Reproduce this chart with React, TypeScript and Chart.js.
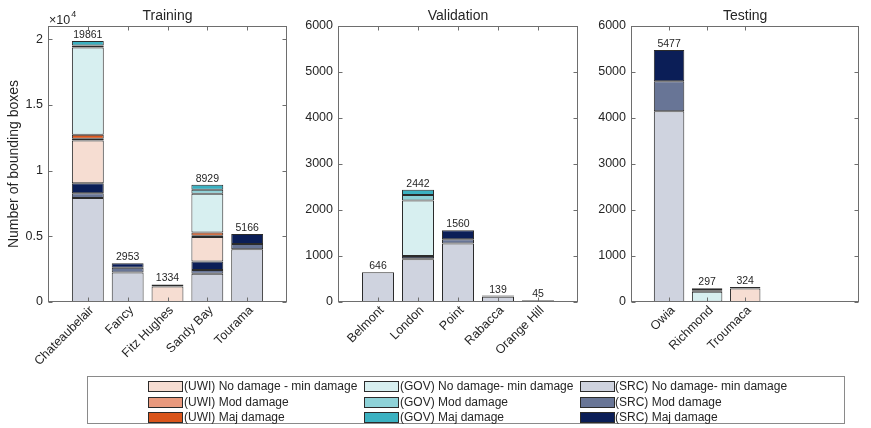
import React, { useEffect, useRef } from 'react';
import { Chart, registerables } from 'chart.js';

Chart.register(...registerables);

const FONT = '"Liberation Sans", Arial, Helvetica, sans-serif';
const TEXT = '#262626';
const EDGE = '#2b2b2b';
const AXIS = '#6e6e6e';

// Categories of each panel
const trainingCategories = ['Chateaubelair', 'Fancy', 'Fitz Hughes', 'Sandy Bay', 'Tourama'];
const validationCategories = ['Belmont', 'London', 'Point', 'Rabacca', 'Orange Hill'];
const testingCategories = ['Owia', 'Richmond', 'Troumaca'];

// Series values: Training (5) | Validation (5) | Testing (3)
const srcNoDamage = [7920, 2240, 0, 2140, 4020, 646, 930, 1270, 115, 30, 4145, 5, 0];
const srcModDamage = [350, 360, 0, 300, 400, 0, 20, 95, 4, 15, 655, 0, 0];
const srcMajDamage = [760, 353, 0, 650, 746, 0, 50, 195, 20, 0, 677, 0, 0];
const uwiNoDamage = [3260, 0, 1180, 1850, 0, 0, 0, 0, 0, 0, 0, 0, 295];
const uwiModDamage = [130, 0, 34, 100, 0, 0, 0, 0, 0, 0, 0, 0, 12];
const uwiMajDamage = [300, 0, 120, 250, 0, 0, 0, 0, 0, 0, 0, 0, 17];
const govNoDamage = [6650, 0, 0, 2955, 0, 0, 1205, 0, 0, 0, 0, 220, 0];
const govModDamage = [150, 0, 0, 305, 0, 0, 120, 0, 0, 0, 0, 30, 0];
const govMajDamage = [341, 0, 0, 379, 0, 0, 117, 0, 0, 0, 0, 42, 0];

// Y tick values
const trainingTicks = [0, 5000, 10000, 15000, 20000];
const countTicks = [0, 1000, 2000, 3000, 4000, 5000, 6000];

const series = [
  { name: '(SRC) No damage- min damage', color: '#cfd3df', values: srcNoDamage },
  { name: '(SRC) Mod damage', color: '#687596', values: srcModDamage },
  { name: '(SRC) Maj damage', color: '#0b1e57', values: srcMajDamage },
  { name: '(UWI) No damage - min damage', color: '#f6ddd2', values: uwiNoDamage },
  { name: '(UWI) Mod damage', color: '#e9997d', values: uwiModDamage },
  { name: '(UWI) Maj damage', color: '#d9541b', values: uwiMajDamage },
  { name: '(GOV) No damage- min damage', color: '#d7eff0', values: govNoDamage },
  { name: '(GOV) Mod damage', color: '#8ed2d8', values: govModDamage },
  { name: '(GOV) Maj damage', color: '#3bb1c1', values: govMajDamage },
];

// legend order (column-major): UWI, GOV, SRC
const legendColumns = [[3, 4, 5], [6, 7, 8], [0, 1, 2]];

type Panel = {
  title: string;
  categories: string[];
  offset: number;
  slots: number;
  left: number;
  right: number;
  yMax: number;
  ticks: number[];
  exp: boolean;
};

const panels: Panel[] = [
  { title: 'Training', categories: trainingCategories, offset: 0, slots: 6, left: 48, right: 287, yMax: 21000, ticks: trainingTicks, exp: true },
  { title: 'Validation', categories: validationCategories, offset: 5, slots: 6, left: 338, right: 578, yMax: 6000, ticks: countTicks, exp: false },
  { title: 'Testing', categories: testingCategories, offset: 10, slots: 6, left: 631, right: 866, yMax: 6000, ticks: countTicks, exp: false },
];

const TOP = 26;
const BOTTOM = 302;
const W = 871;
const H = 428;

function makeDecor(panel: Panel) {
  return {
    id: 'decor',
    afterDraw(chart: any) {
      const ctx = chart.ctx as CanvasRenderingContext2D;
      const { left, right, top, bottom } = chart.chartArea;
      const xs = chart.scales.x;
      const ys = chart.scales.y;
      ctx.save();
      // box
      ctx.strokeStyle = AXIS;
      ctx.lineWidth = 1;
      const l = Math.round(left) + 0.5;
      const r = Math.round(right) - 0.5;
      const t = Math.round(top) + 0.5;
      const b = Math.round(bottom) - 0.5;
      ctx.strokeRect(l, t, r - l, b - t);
      const line = (x1: number, y1: number, x2: number, y2: number) => {
        ctx.beginPath();
        ctx.moveTo(x1, y1);
        ctx.lineTo(x2, y2);
        ctx.stroke();
      };
      // y ticks inward both sides
      panel.ticks.forEach((v) => {
        const py = Math.round(ys.getPixelForValue(v)) + 0.5;
        line(l, py, l + 4, py);
        line(r - 4, py, r, py);
      });
      // x ticks inward top and bottom
      panel.categories.forEach((_, i) => {
        const px = Math.round(xs.getPixelForValue(i + 1)) + 0.5;
        line(px, b, px, b - 4);
        line(px, t, px, t + 4);
      });
      // totals above bars
      ctx.fillStyle = TEXT;
      ctx.font = `10.5px ${FONT}`;
      ctx.textAlign = 'center';
      ctx.textBaseline = 'alphabetic';
      panel.categories.forEach((_, i) => {
        let sum = 0;
        series.forEach((s) => { sum += s.values[panel.offset + i]; });
        const px = xs.getPixelForValue(i + 1);
        const py = ys.getPixelForValue(sum);
        ctx.fillText(String(sum), px, py - 3);
      });
      // title
      ctx.font = `14px ${FONT}`;
      ctx.fillText(panel.title, (left + right) / 2, top - 6);
      if (panel.exp) {
        ctx.textAlign = 'left';
        ctx.font = `12.5px ${FONT}`;
        ctx.fillText('\u00d710', left + 1, top - 2);
        const w = ctx.measureText('\u00d710').width;
        ctx.font = `9px ${FONT}`;
        ctx.fillText('4', left + 1 + w + 1, top - 9);
        // y title
        ctx.save();
        ctx.translate(18, (top + bottom) / 2);
        ctx.rotate(-Math.PI / 2);
        ctx.textAlign = 'center';
        ctx.font = `14px ${FONT}`;
        ctx.fillText('Number of bounding boxes', 0, 0);
        ctx.restore();
      }
      ctx.restore();
    },
  };
}

function BarPanel({ panel }: { panel: Panel }) {
  const ref = useRef<HTMLCanvasElement>(null);
  useEffect(() => {
    const canvas = ref.current!;
    const labels: string[] = Array(panel.slots + 1).fill('');
    panel.categories.forEach((c, i) => { labels[i + 1] = c; });
    const datasets = series.map((s) => ({
      label: s.name,
      data: labels.map((_, i) => {
        if (i === 0 || i > panel.categories.length) return null;
        const v = s.values[panel.offset + i - 1];
        return v > 0 ? v : null;
      }),
      backgroundColor: s.color,
      borderColor: EDGE,
      borderWidth: 1,
      borderSkipped: false as any,
      barPercentage: 0.8,
      categoryPercentage: 1,
    }));
    const tickFont = { family: FONT, size: 12.5 };
    const chart = new Chart(canvas, {
      type: 'bar',
      data: { labels, datasets },
      options: {
        responsive: false,
        animation: false,
        devicePixelRatio: 1,
        layout: { padding: { left: 0, right: W - panel.right, top: TOP, bottom: 0 } },
        plugins: {
          legend: { display: false },
          tooltip: { enabled: false },
          title: { display: false },
        },
        scales: {
          x: {
            stacked: true,
            offset: false,
            grid: { display: false, drawTicks: false },
            border: { display: false },
            ticks: {
              autoSkip: false,
              minRotation: 45,
              maxRotation: 45,
              padding: 1,
              labelOffset: 4,
              color: TEXT,
              font: tickFont,
            },
            afterFit: (s: any) => { s.height = H - BOTTOM; },
          },
          y: {
            stacked: true,
            min: 0,
            max: panel.yMax,
            grid: { display: false, drawTicks: false },
            border: { display: false },
            ticks: {
              padding: 5,
              color: TEXT,
              font: tickFont,
              callback: (v: any) => (panel.exp ? String(Number(v) / 10000) : String(v)),
            },
            afterBuildTicks: (s: any) => { s.ticks = panel.ticks.map((v) => ({ value: v })); },
            afterFit: (s: any) => { s.width = panel.left; },
          },
        },
      } as any,
      plugins: [makeDecor(panel)],
    });
    return () => chart.destroy();
  }, [panel]);
  return (
    <canvas
      ref={ref}
      width={W}
      height={H}
      style={{ position: 'absolute', left: 0, top: 0, width: W, height: H, display: 'block' }}
    />
  );
}

function Legend() {
  const swatchLeft = [148, 364, 580];
  const textLeft = [184, 400, 615];
  const rowCenter = [386, 401.5, 416.5];
  const items: React.ReactNode[] = [];
  legendColumns.forEach((col, ci) => {
    col.forEach((si, ri) => {
      const s = series[si];
      items.push(
        <div key={`sw${ci}${ri}`} style={{
          position: 'absolute', left: swatchLeft[ci], top: rowCenter[ri] - 5, width: 33, height: 9,
          background: s.color, border: `1px solid ${EDGE}`,
        }} />
      );
      items.push(
        <div key={`tx${ci}${ri}`} style={{
          position: 'absolute', left: textLeft[ci], top: rowCenter[ri] - 8, height: 16, lineHeight: '16px',
          fontFamily: FONT, fontSize: 12, color: TEXT, whiteSpace: 'nowrap',
        }}>{s.name}</div>
      );
    });
  });
  return (
    <>
      <div style={{
        position: 'absolute', left: 87, top: 376, width: 758, height: 48,
        border: '1px solid #8a8a8a', background: '#fff', boxSizing: 'border-box',
      }} />
      {items}
    </>
  );
}

export default function App() {
  return (
    <div style={{ position: 'fixed', left: 0, top: 0, width: W, height: H, background: '#fff', overflow: 'hidden' }}>
      {panels.map((p) => <BarPanel key={p.title} panel={p} />)}
      <Legend />
    </div>
  );
}
